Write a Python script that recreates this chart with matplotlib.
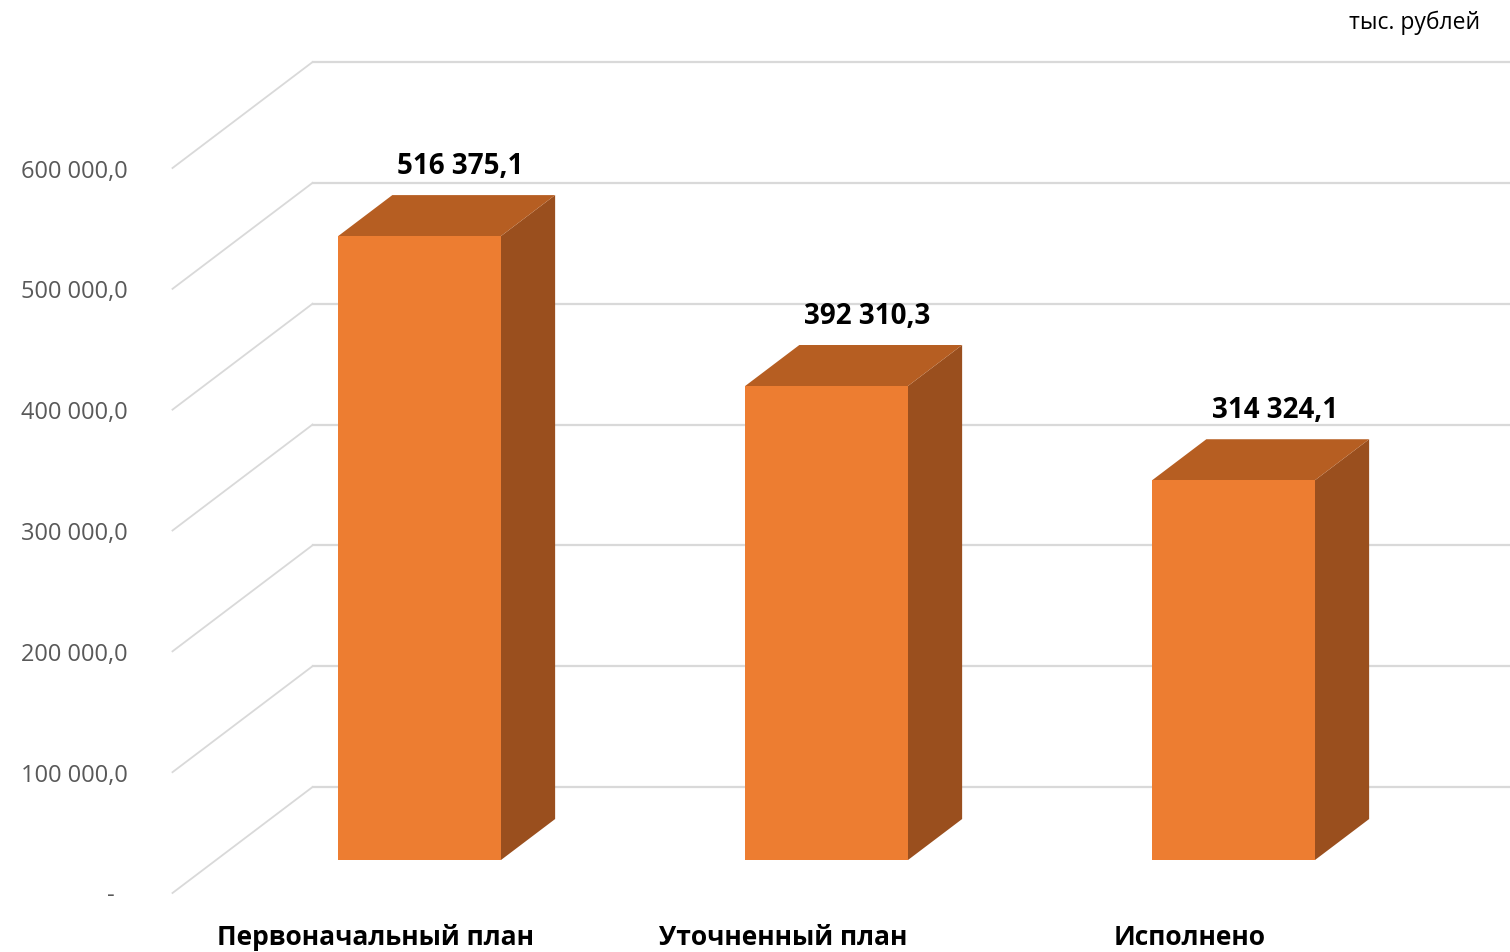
import matplotlib
matplotlib.use('Agg')
import matplotlib.pyplot as plt
from matplotlib.patches import Polygon

# данные
categories = ['Первоначальный план', 'Уточненный план', 'Исполнено']
values = [516375.1, 392310.3, 314324.1]
ticks = [0, 100000, 200000, 300000, 400000, 500000, 600000]
unit_label = 'тыс. рублей'

# цвета (Excel)
FRONT = '#ED7D31'
TOP = '#B65E22'
SIDE = '#9A4F1E'
GRID = '#D9D9D9'

# псевдо-3D: смещение по глубине
DX = 0.344       # в единицах категорий
DY = 87700.0     # в единицах значений
D0, D1 = 0.311, 0.698   # передняя и задняя грань столбика
BAR_W = 0.4

plt.rcParams['font.family'] = ['Open Sans', 'DejaVu Sans']


def fmt(v):
    s = f'{v:,.1f}'
    return s.replace(',', ' ').replace('.', ',')


def main():
    fig = plt.figure(figsize=(15.1, 9.52), dpi=100)
    ax = fig.add_axes([0, 0, 1, 1])
    ax.set_xlim(-376 / 407, (1510 - 376) / 407)
    ax.set_ylim((893 - 952) / 1.2083 * 1000, 893 / 1.2083 * 1000)
    ax.axis('off')

    # сетка: задняя стенка и боковая стенка
    for t in ticks:
        ax.plot([-0.5 + DX, 2.5 + DX], [t + DY, t + DY], color=GRID, lw=1.6, zorder=1)
        ax.plot([-0.5, -0.5 + DX], [t, t + DY], color=GRID, lw=1.3, zorder=1)
        if t == 0:
            ax.text((111 - 376) / 407, t - 2500, '-', ha='center', va='center',
                    fontsize=17, color='#595959')
        else:
            ax.text((128 - 376) / 407, t - 3000, fmt(t), ha='right', va='center',
                    fontsize=17, color='#595959')

    # столбики
    for i, v in enumerate(values):
        xl = i + D0 * DX - BAR_W / 2
        xr = xl + BAR_W
        y0 = D0 * DY
        y1 = v + D0 * DY
        ddx = (D1 - D0) * DX
        ddy = (D1 - D0) * DY
        ax.add_patch(Polygon([[xr, y0], [xr + ddx, y0 + ddy], [xr + ddx, y1 + ddy], [xr, y1]],
                             closed=True, facecolor=SIDE, edgecolor='none', zorder=3))
        ax.add_patch(Polygon([[xl, y1], [xr, y1], [xr + ddx, y1 + ddy], [xl + ddx, y1 + ddy]],
                             closed=True, facecolor=TOP, edgecolor='none', zorder=3))
        ax.add_patch(Polygon([[xl, y0], [xr, y0], [xr, y1], [xl, y1]],
                             closed=True, facecolor=FRONT, edgecolor='none', zorder=4))
        ax.text(i + 0.208, v + D1 * DY + 23500, fmt(v), ha='center', va='center',
                fontsize=20, fontweight='bold', color='black', zorder=5)
        ax.text(i, -36500, categories[i], ha='center', va='center',
                fontsize=19, fontweight='bold', color='black')

    fig.text(1480 / 1510, 1 - 23 / 952, unit_label, ha='right', va='center',
             fontsize=16.5, color='black')

    fig.savefig('out.png', dpi=100)


if __name__ == '__main__':
    main()
